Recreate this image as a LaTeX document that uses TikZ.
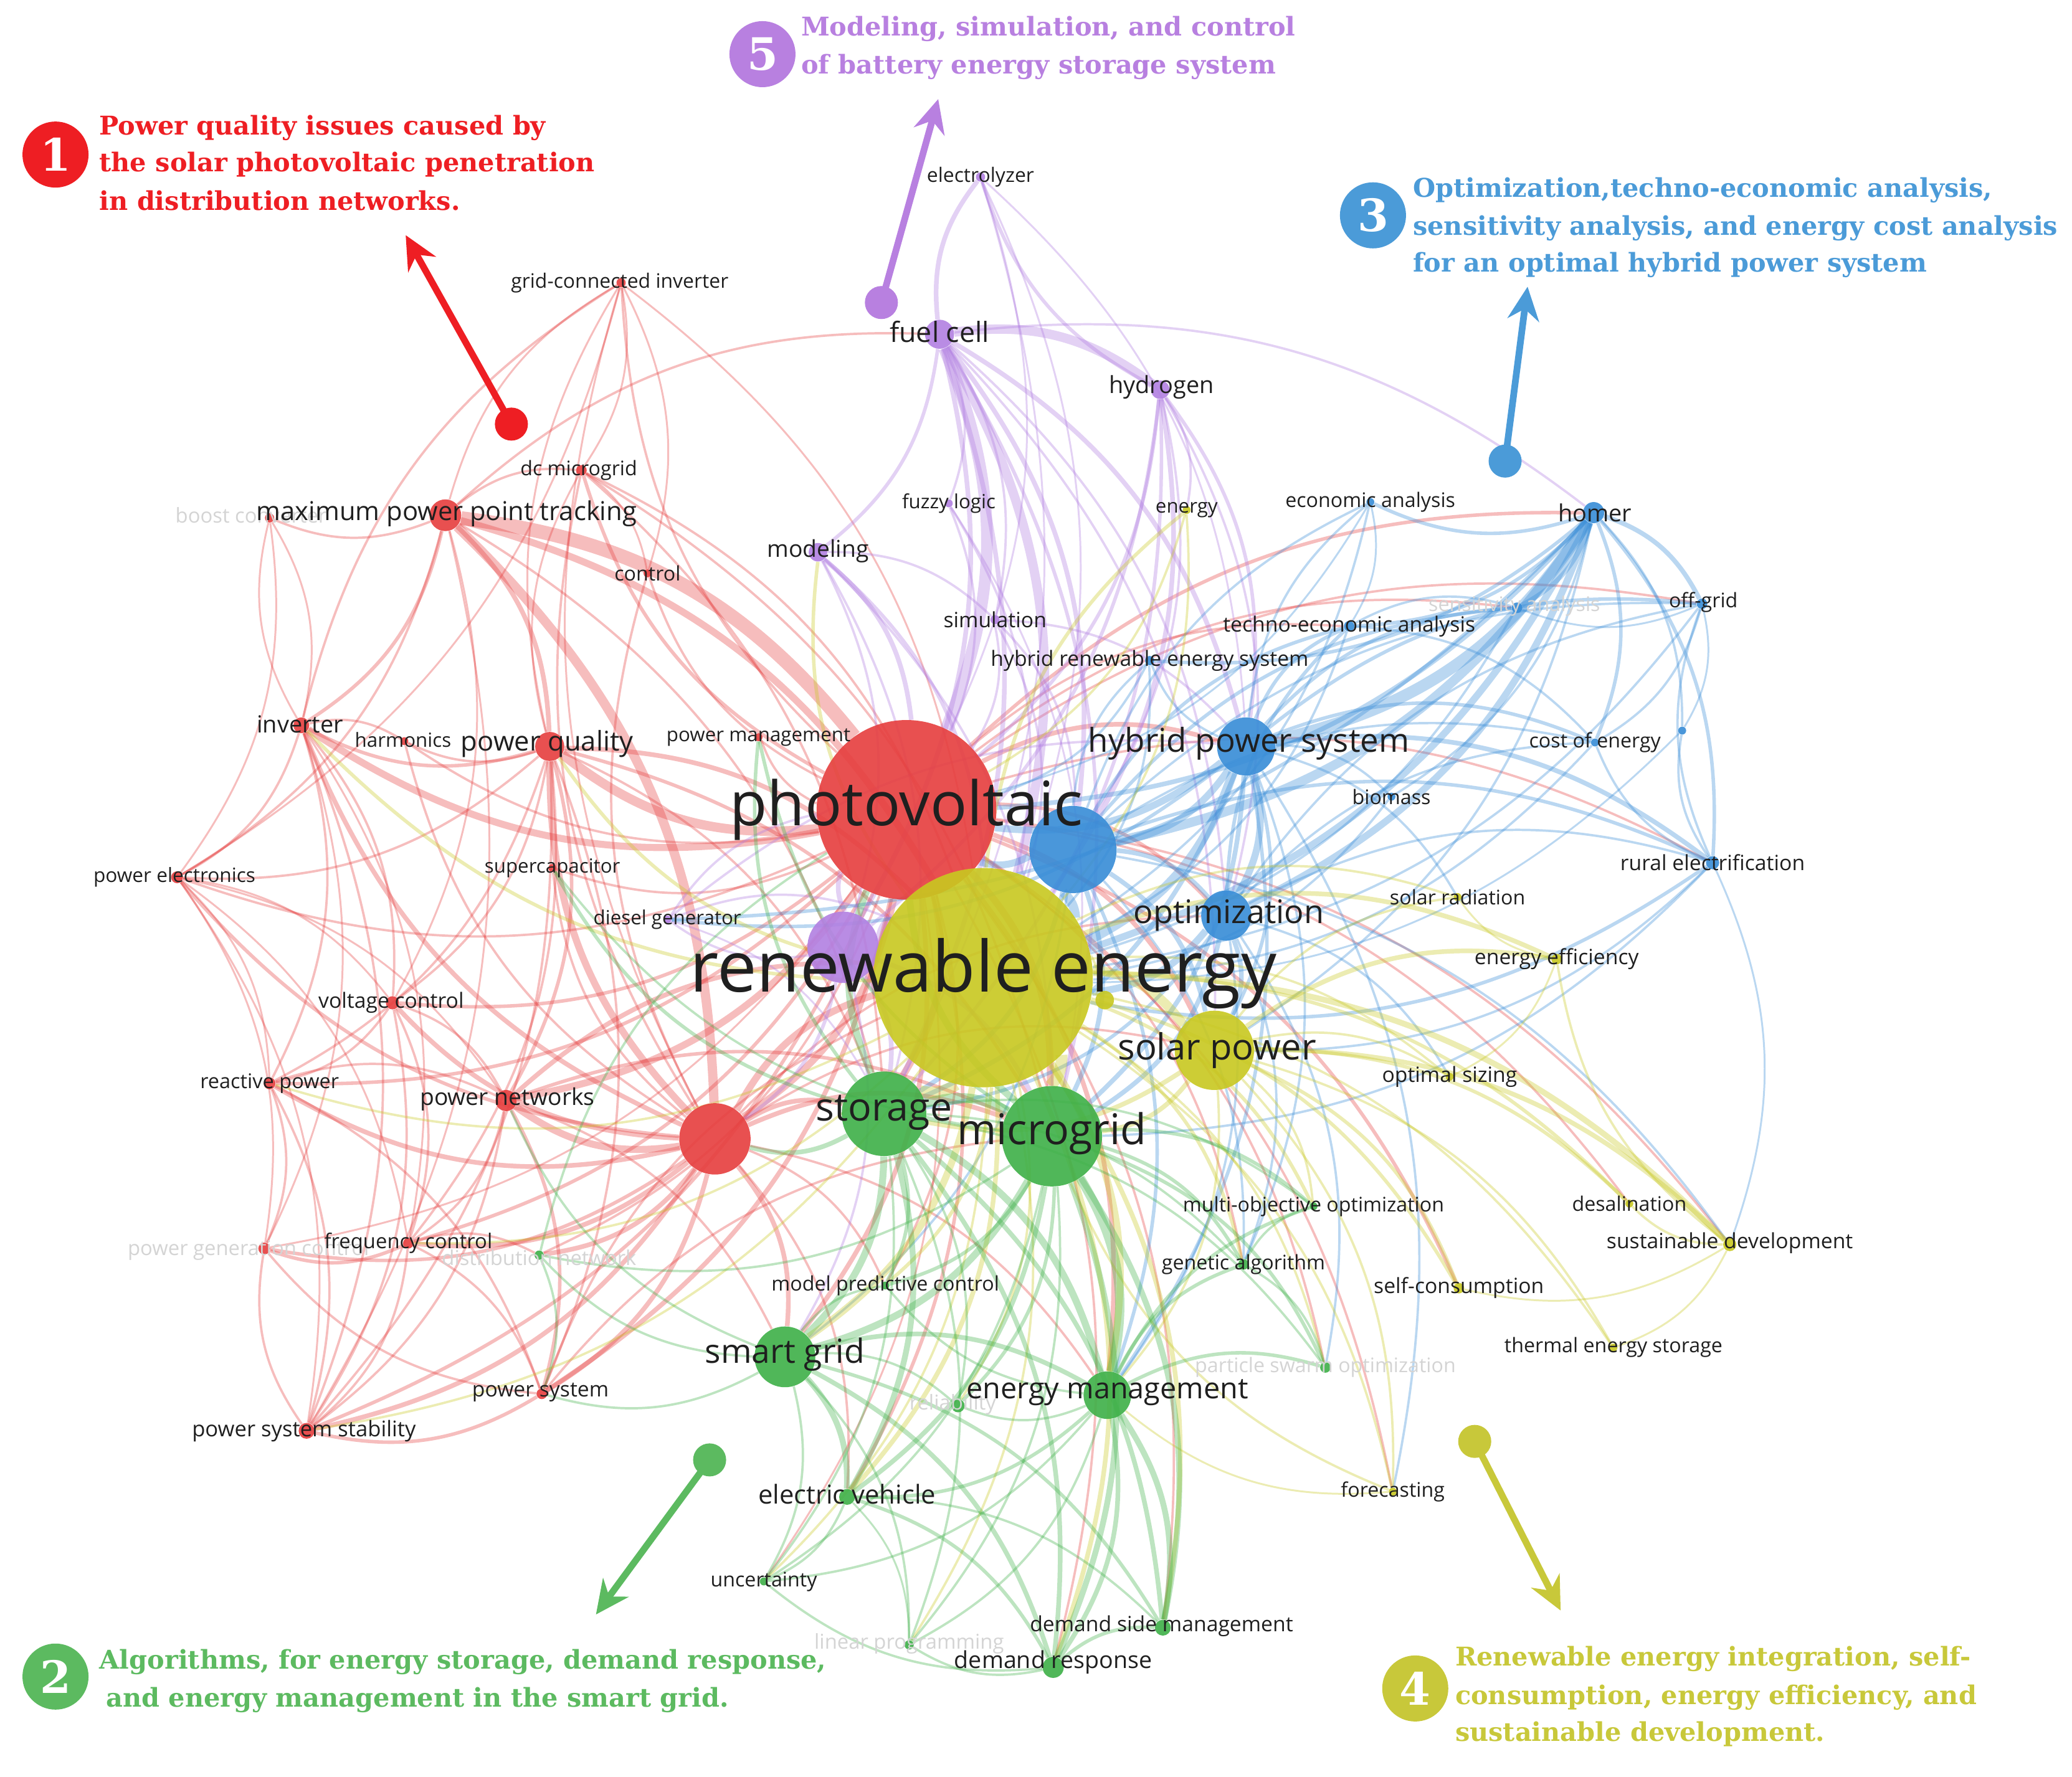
\documentclass[tikz,border=0pt]{standalone}
\usepackage{fontspec}
\setmainfont{Open Sans}
\newfontfamily\annfont{DejaVu Serif}
\usetikzlibrary{arrows.meta}
\pgfdeclarelayer{bg}\pgfdeclarelayer{edges}\pgfdeclarelayer{front}
\pgfsetlayers{bg,edges,main,front}
\definecolor{cR}{RGB}{230,62,62}
\definecolor{cG}{RGB}{62,176,72}
\definecolor{cB}{RGB}{55,140,215}
\definecolor{cY}{RGB}{200,200,32}
\definecolor{cP}{RGB}{178,128,226}
\definecolor{aR}{RGB}{238,30,35}
\definecolor{aG}{RGB}{92,186,96}
\definecolor{aB}{RGB}{75,155,216}
\definecolor{aY}{RGB}{200,200,58}
\definecolor{aP}{RGB}{184,128,224}
\newcommand\pxu{0.025cm}
\newcommand\kw[4]{\node[kwdot,fill=#4,minimum size=#3*\pxu] (#1) at (#2) {};}
\newcommand\lab[4]{\node[lab,font=\fontsize{#3}{#3}\selectfont] (#1-t) at (#2) {#4};}
\newcommand\flab[4]{\node[lab,text=black!17,font=\fontsize{#3}{#3}\selectfont] (#1-t) at (#2) {#4};}
\newcommand\annline[4]{\node[annl,text=#4] (#1) at (#2) {#3};}
\begin{document}
\begin{tikzpicture}[x=0.025cm,y=-0.025cm,
  kwdot/.style={circle,inner sep=0pt,draw=none,fill opacity=0.9},
  lab/.style={inner sep=0pt,anchor=center,text=black!88},
  annl/.style={inner sep=0pt,anchor=base west,font=\annfont\bfseries\fontsize{13.9}{16}\selectfont},
  numc/.style={circle,inner sep=0pt,minimum size=50*\pxu,text=white,font=\annfont\bfseries\fontsize{24}{24}\selectfont},
  startdot/.style={circle,inner sep=0pt,minimum size=25*\pxu},
  annarrow/.style={line width=3.6pt,-{Stealth[length=18pt,width=17pt,inset=6pt]}},
  eR/.style={draw=cR,draw opacity=0.34},
  eG/.style={draw=cG,draw opacity=0.34},
  eB/.style={draw=cB,draw opacity=0.34},
  eY/.style={draw=cY,draw opacity=0.34},
  eP/.style={draw=cP,draw opacity=0.36}]
\begin{pgfonlayer}{bg}
\fill[white] (0,0) rectangle (1568,1345);
\end{pgfonlayer}
\useasboundingbox (0,0) rectangle (1568,1345);
% ---------- nodes ----------
\kw{pur}{638,717}{54}{cP}
\kw{pv}{686,613}{136}{cR}
\kw{bl}{812,643}{66}{cB}
\kw{re}{744,740}{166}{cY}
\kw{rd2}{541,862}{54}{cR}
\kw{mppt}{337,390}{24}{cR}
\kw{boost}{204,392}{7}{cR}
\kw{dcm}{440,356}{8}{cR}
\kw{gci}{470,214}{7}{cR}
\kw{ctrl}{490,434}{6}{cR}
\kw{inv}{228,549}{12}{cR}
\kw{harm}{306,561}{6}{cR}
\kw{pq}{416,565}{22}{cR}
\kw{pm}{574,558}{6}{cR}
\kw{pe}{134,664}{9}{cR}
\kw{supc}{418,657}{6}{cR}
\kw{dg}{505,696}{6}{cP}
\kw{vc}{297,759}{10}{cR}
\kw{rp}{204,820}{9}{cR}
\kw{pn}{383,833}{16}{cR}
\kw{fc}{309,941}{8}{cR}
\kw{pgc}{200,945}{9}{cR}
\kw{ps}{410,1055}{8}{cR}
\kw{pss}{232,1083}{12}{cR}
\kw{fuel}{711,253}{22}{cP}
\kw{elz}{742,134}{7}{cP}
\kw{hyd}{878,295}{14}{cP}
\kw{fl}{718,381}{6}{cP}
\kw{mod}{619,418}{14}{cP}
\kw{sim}{753,469}{7}{cP}
\kw{energy}{898,386}{6}{cY}
\kw{hres}{870,500}{7}{cB}
\kw{hps}{943,565}{44}{cB}
\kw{opt}{928,693}{38}{cB}
\kw{eca}{1037,380}{6}{cB}
\kw{homer}{1206,388}{16}{cB}
\kw{sens}{1148,460}{8}{cB}
\kw{offg}{1288,457}{8}{cB}
\kw{tea}{1021,474}{8}{cB}
\kw{coe}{1207,562}{6}{cB}
\kw{bdot}{1273,553}{6}{cB}
\kw{bio}{1053,603}{6}{cB}
\kw{rural}{1296,653}{10}{cB}
\kw{sp}{919,795}{60}{cY}
\kw{ydot}{836,757}{14}{cY}
\kw{srad}{1103,679}{6}{cY}
\kw{ee}{1178,726}{8}{cY}
\kw{os}{1097,815}{6}{cY}
\kw{desal}{1233,911}{6}{cY}
\kw{sd}{1309,942}{10}{cY}
\kw{sc}{1104,975}{8}{cY}
\kw{tes}{1221,1020}{6}{cY}
\kw{fore}{1054,1129}{6}{cY}
\kw{sto}{669,843}{64}{cG}
\kw{mg}{796,860}{76}{cG}
\kw{moo}{994,913}{6}{cG}
\kw{ga}{941,957}{8}{cG}
\kw{mpc}{670,973}{6}{cG}
\kw{sg}{594,1027}{46}{cG}
\kw{em}{838,1056}{36}{cG}
\kw{pso}{1003,1035}{8}{cG}
\kw{rel}{725,1064}{10}{cG}
\kw{ev}{641,1133}{12}{cG}
\kw{unc}{578,1197}{6}{cG}
\kw{dsm}{880,1232}{12}{cG}
\kw{lp}{688,1245}{7}{cG}
\kw{dr}{797,1262}{16}{cG}
\kw{dn}{408,950}{7}{cG}
% ---------- edges ----------
\begin{pgfonlayer}{edges}
\foreach \a/\b/\w in {mppt/pv/6,mppt/rd2/4,mppt/pq/2,mppt/inv/1.5,mppt/boost/1,mppt/dcm/1,mppt/re/3,mppt/sto/1,mppt/fuel/1,mppt/pe/1,mppt/gci/0.8,mppt/vc/0.8,mppt/pss/0.8,
 pv/inv/3,pv/pq/4,pv/pn/3,pv/rd2/3,pv/gci/1,pv/dcm/1.5,pv/ctrl/1,pv/harm/1,pv/pm/1,pv/pe/1,pv/vc/1.5,pv/rp/1.5,pv/fc/1.5,pv/ps/2,pv/pss/1.5,pv/sg/2,pv/mg/3,pv/sto/3,pv/hps/2,pv/opt/1.5,pv/sp/2,pv/em/2,pv/ev/1.5,pv/ga/1,pv/tea/1,pv/homer/1.5,pv/sens/1,pv/dsm/1,pv/dr/1,pv/offg/1,pv/rural/1,pv/desal/1,pv/sd/1,pv/sc/1.5,pv/pso/1,pv/mpc/1,pv/unc/0.8,pv/fore/1,pv/dn/1,pv/pgc/0.8,pv/supc/1,
 rd2/inv/2,rd2/pq/3,rd2/pn/3,rd2/vc/2,rd2/rp/2,rd2/fc/2,rd2/ps/2,rd2/pss/2,rd2/pe/1.5,rd2/harm/1,rd2/gci/0.8,rd2/dcm/1,rd2/pgc/1.5,rd2/dn/2,rd2/mg/2,rd2/sto/2,rd2/sg/2,rd2/re/3,rd2/em/1,rd2/ev/1,rd2/opt/1,rd2/sp/1,rd2/mpc/1,rd2/supc/1,rd2/ctrl/1,
 pq/inv/1.5,pq/harm/1,pq/pe/1,pq/vc/1,pq/rp/1,pq/pn/1.5,pq/re/2,pq/mg/1.5,pq/sto/1,pq/gci/0.8,pq/dcm/0.8,pq/fc/1,pq/pss/1,pq/ps/1,
 inv/pe/1,inv/gci/1,inv/vc/1,inv/rp/1,inv/pss/1,inv/harm/1,inv/pgc/0.8,inv/fc/0.8,inv/boost/0.8,
 pe/vc/0.8,pe/rp/0.8,pe/pss/0.8,pe/pgc/0.8,pe/fc/0.8,pe/pn/0.8,
 vc/rp/1,vc/pn/1,vc/fc/1,vc/pss/1,rp/pss/1,rp/pgc/1,rp/pn/1,rp/ps/1,
 pn/fc/1,pn/ps/1.5,pn/pss/1,pn/re/2,pn/mg/1.5,pn/sg/1,
 fc/pss/1,fc/ps/1,fc/pgc/1.5,fc/dn/1,ps/pss/1.5,ps/pgc/1,ps/re/1,ps/mg/1,pss/pgc/1,
 gci/dcm/0.8,gci/ctrl/0.8,gci/pe/0.8,gci/re/0.8,dcm/ctrl/0.8,dcm/mg/1,dcm/sto/1,dcm/re/1,boost/pe/0.8,boost/inv/0.8}
 \draw[eR,line width=\w*1.25pt] (\a) to[bend left=22] (\b);
\foreach \a/\b/\w in {fuel/pv/5,fuel/re/4,fuel/hyd/4,fuel/elz/2,fuel/sto/2,fuel/pur/2,fuel/mod/1.5,fuel/hps/2,fuel/mg/1.5,fuel/bl/2,fuel/sim/1,fuel/fl/1,fuel/opt/1,fuel/homer/1,fuel/sp/1,
 hyd/elz/1.5,hyd/re/2,hyd/pv/1.5,hyd/sto/1.5,hyd/hps/1.5,hyd/bl/1,hyd/opt/1,hyd/energy/1,hyd/pur/1.5,
 elz/pv/0.8,elz/re/0.8,elz/sto/0.8,elz/hps/0.8,
 mod/pv/2,mod/re/1.5,mod/sim/1,mod/pur/1,mod/sto/1,mod/mg/1,
 pur/re/3,pur/pv/2,pur/sto/2,pur/mg/2,pur/rd2/1.5,pur/sg/1,pur/dg/1,
 sim/pv/1,sim/re/1,sim/bl/1,sim/hps/1,fl/pv/1,fl/re/1,fl/mg/0.8,dg/pv/1,dg/re/1,dg/hps/1,dg/sto/0.8}
 \draw[eP,line width=\w*1.25pt] (\a) to[bend left=22] (\b);
\foreach \a/\b/\w in {homer/hps/5,homer/bl/4,homer/opt/3,homer/offg/2,homer/sens/2,homer/eca/1.5,homer/tea/1.5,homer/rural/1.5,homer/re/3,homer/coe/1.5,homer/pv/2,homer/sp/1,homer/bio/1,homer/hres/1.5,homer/dg/1.5,homer/bdot/1,
 hps/bl/3,hps/opt/3,hps/re/4,hps/pv/3,hps/tea/1.5,hps/coe/1.5,hps/rural/2,hps/offg/1.5,hps/sens/1.5,hps/bio/1,hps/eca/1,hps/hres/1,hps/sto/2,hps/mg/2,hps/sp/1.5,hps/em/1.5,hps/ga/1,hps/dg/1.5,hps/srad/1,hps/fore/1,
 bl/re/4,bl/pv/3,bl/opt/2,bl/sto/2,bl/mg/2,bl/tea/1.5,bl/sens/1.5,bl/eca/1,bl/offg/1,bl/rural/1.5,bl/coe/1,bl/sp/2,bl/sd/1,bl/ga/1,bl/em/1.5,bl/sg/1,bl/hres/1,
 opt/re/3,opt/sp/2,opt/mg/2,opt/sto/1.5,opt/tea/1.5,opt/coe/1,opt/rural/1,opt/offg/1,opt/ga/1,opt/os/1,opt/em/1,opt/pso/1,
 rural/offg/1,rural/coe/1,rural/re/1.5,rural/sp/1,rural/bdot/1,rural/sd/0.8,rural/mg/1,
 offg/bdot/0.8,offg/sens/0.8,offg/re/1,offg/coe/1,eca/tea/0.8,eca/re/1,eca/pv/0.8,tea/re/1,tea/sens/1,tea/coe/1,
 coe/re/1,bdot/re/0.8,bio/re/1,hres/re/1,hres/pv/1,sens/re/1}
 \draw[eB,line width=\w*1.25pt] (\a) to[bend left=22] (\b);
\foreach \a/\b/\w in {re/sp/4,re/sto/5,re/mg/5,re/sg/3,re/em/3,re/ee/2,re/sd/2.5,re/desal/1.5,re/sc/1.5,re/tes/1,re/fore/1,re/srad/1,re/os/1,re/energy/1.5,re/ydot/1,re/ga/1.5,re/moo/1.5,re/mpc/1.5,re/ev/2,re/dr/2,re/dsm/2,re/pso/1,re/rel/1,re/unc/1,re/lp/1,re/inv/1.5,re/mod/1.5,re/pq/1.5,re/fc/1,re/pss/1,re/rp/1,
 sp/ee/2,sp/sd/2,sp/sc/1.5,sp/desal/1.5,sp/tes/1,sp/os/1,sp/srad/1,sp/mg/2,sp/sto/2,sp/em/1,sp/fore/1,sp/moo/1,
 sd/desal/1,sd/ee/1,sd/sc/0.8,sd/tes/0.8,ee/os/0.8,ee/srad/0.8,energy/pv/1,energy/re/1,fore/em/0.8,fore/mg/1}
 \draw[eY,line width=\w*1.25pt] (\a) to[bend left=22] (\b);
\foreach \a/\b/\w in {sto/mg/4,sto/sg/3,sto/em/3,sto/ev/2.5,sto/dr/2,sto/dsm/2,sto/mpc/1.5,sto/ga/1,sto/moo/1,sto/pso/1,sto/rel/1,sto/unc/1,sto/lp/1,sto/rd2/2,sto/pv/3,sto/supc/1.5,sto/pm/1.5,
 mg/sg/3,mg/em/4,mg/ev/2,mg/dr/2.5,mg/dsm/2.5,mg/ga/1.5,mg/moo/1.5,mg/mpc/1.5,mg/pso/1.5,mg/rel/1.5,mg/unc/1,mg/lp/1,mg/pv/3,mg/dn/1,mg/supc/1,mg/pm/1.5,
 sg/em/2,sg/ev/2.5,sg/dr/2,sg/dsm/1.5,sg/unc/1,sg/lp/1,sg/rel/1,sg/mpc/1,sg/ps/1,sg/dn/1,sg/pn/1,
 em/ev/1.5,em/dr/2,em/dsm/2.5,em/ga/1.5,em/moo/1.5,em/pso/1.5,em/rel/1,em/mpc/1,em/unc/1,em/lp/1,
 ev/dr/1.5,ev/dsm/1,ev/unc/1,ev/lp/0.8,dr/dsm/1.5,dr/unc/1,dr/lp/1,ga/moo/1,ga/pso/1,dn/ps/1,dn/pv/1}
 \draw[eG,line width=\w*1.25pt] (\a) to[bend left=22] (\b);
\end{pgfonlayer}
% ---------- labels ----------
\begin{pgfonlayer}{front}
\flab{boost}{190,390}{11}{boost converter}
\flab{pgc}{188,946}{11}{power generation control}
\flab{dn}{408,952}{11}{distribution network}
\flab{sens}{1146,459}{10.8}{sensitivity analysis}
\flab{pso}{1003,1035}{10.8}{particle swarm optimization}
\flab{rel}{721,1063}{11}{reliability}
\flab{lp}{688,1244}{11}{linear programming}
\lab{pv}{686,613}{33}{photovoltaic}
\lab{re}{744,737}{38}{renewable energy}
\lab{hps}{945,563}{17.7}{hybrid power system}
\lab{opt}{930,693}{17.5}{optimization}
\lab{sp}{921,795}{19.4}{solar power}
\lab{sto}{669,842}{21}{storage}
\lab{mg}{796,858}{22.8}{microgrid}
\lab{sg}{594,1025}{17.9}{smart grid}
\lab{em}{838,1054}{15.7}{energy management}
\lab{mppt}{338,389}{14}{maximum power point tracking}
\lab{pq}{414,563}{14.6}{power quality}
\lab{fuel}{711,251}{15}{fuel cell}
\lab{ev}{641,1131}{14}{electric vehicle}
\lab{dr}{797,1258}{12.6}{demand response}
\lab{inv}{227,548}{12.7}{inverter}
\lab{mod}{619,417}{12.5}{modeling}
\lab{pn}{384,832}{12.5}{power networks}
\lab{hyd}{879,293}{12.7}{hydrogen}
\lab{homer}{1207,388}{12.7}{homer}
\lab{fc}{309,941}{11}{frequency control}
\lab{ga}{941,957}{10.8}{genetic algorithm}
\lab{sc}{1104,975}{11.3}{self-consumption}
\lab{rural}{1296,653}{11.3}{rural electrification}
\lab{pss}{230,1083}{11.6}{power system stability}
\lab{pe}{132,664}{10.6}{power electronics}
\lab{gci}{469,214}{10.7}{grid-connected inverter}
\lab{elz}{742,134}{10.7}{electrolyzer}
\lab{dcm}{438,356}{10.8}{dc microgrid}
\lab{ctrl}{490,434}{10.8}{control}
\lab{harm}{305,560}{10.5}{harmonics}
\lab{pm}{574,558}{10.5}{power management}
\lab{supc}{418,657}{10.5}{supercapacitor}
\lab{dg}{505,696}{10.5}{diesel generator}
\lab{vc}{296,759}{11.3}{voltage control}
\lab{rp}{204,820}{10.9}{reactive power}
\lab{ps}{409,1054}{11.3}{power system}
\lab{fl}{718,381}{10.5}{fuzzy logic}
\lab{sim}{753,469}{11.3}{simulation}
\lab{energy}{898,386}{10.5}{energy}
\lab{hres}{870,500}{11.3}{hybrid renewable energy system}
\lab{eca}{1037,380}{10.8}{economic analysis}
\lab{tea}{1021,474}{11.3}{techno-economic analysis}
\lab{offg}{1289,456}{10.8}{off-grid}
\lab{coe}{1207,562}{10.8}{cost of energy}
\lab{bio}{1053,603}{10.8}{biomass}
\lab{srad}{1103,679}{10.8}{solar radiation}
\lab{ee}{1178,726}{11.3}{energy efficiency}
\lab{os}{1097,815}{11.3}{optimal sizing}
\lab{desal}{1233,911}{10.8}{desalination}
\lab{sd}{1309,941}{11.3}{sustainable development}
\lab{tes}{1221,1020}{10.8}{thermal energy storage}
\lab{fore}{1054,1129}{10.8}{forecasting}
\lab{moo}{994,913}{10.8}{multi-objective optimization}
\lab{mpc}{670,973}{10.8}{model predictive control}
\lab{unc}{578,1197}{10.8}{uncertainty}
\lab{dsm}{879,1231}{11.3}{demand side management}
% ---------- annotations ----------
\node[numc,fill=aR] (n1) at (42,117) {1};
\annline{a1a}{75,102}{Power quality issues caused by}{aR}
\annline{a1b}{75,130}{the solar photovoltaic penetration}{aR}
\annline{a1c}{75,159}{in distribution networks.}{aR}
\node[startdot,fill=aR] (d1) at (387,321) {};
\coordinate (t1) at (307,178);
\draw[annarrow,aR] (d1.center) -- (t1);

\node[numc,fill=aP] (n5) at (577,41) {5};
\annline{a5a}{606,27}{Modeling, simulation, and control}{aP}
\annline{a5b}{606,56}{of battery energy storage system}{aP}
\node[startdot,fill=aP] (d5) at (667,229) {};
\coordinate (t5) at (710,75);
\draw[annarrow,aP] (d5.center) -- (t5);

\node[numc,fill=aB] (n3) at (1039,163) {3};
\annline{a3a}{1069,149}{Optimization,techno-economic analysis,}{aB}
\annline{a3b}{1069,178}{sensitivity analysis, and energy cost analysis}{aB}
\annline{a3c}{1069,206}{for an optimal hybrid power system}{aB}
\node[startdot,fill=aB] (d3) at (1139,349) {};
\coordinate (t3) at (1156,217);
\draw[annarrow,aB] (d3.center) -- (t3);

\node[numc,fill=aG] (n2) at (42,1269) {2};
\annline{a2a}{75,1263}{Algorithms, for energy storage, demand response,}{aG}
\annline{a2b}{80,1292}{and energy management in the smart grid.}{aG}
\node[startdot,fill=aG] (d2) at (537,1105) {};
\coordinate (t2) at (451,1222);
\draw[annarrow,aG] (d2.center) -- (t2);

\node[numc,fill=aY] (n4) at (1071,1278) {4};
\annline{a4a}{1101,1261}{Renewable energy integration, self-}{aY}
\annline{a4b}{1101,1290}{consumption, energy efficiency, and}{aY}
\annline{a4c}{1101,1318}{sustainable development.}{aY}
\node[startdot,fill=aY] (d4) at (1116,1091) {};
\coordinate (t4) at (1181,1219);
\draw[annarrow,aY] (d4.center) -- (t4);
\end{pgfonlayer}
\end{tikzpicture}
\end{document}
